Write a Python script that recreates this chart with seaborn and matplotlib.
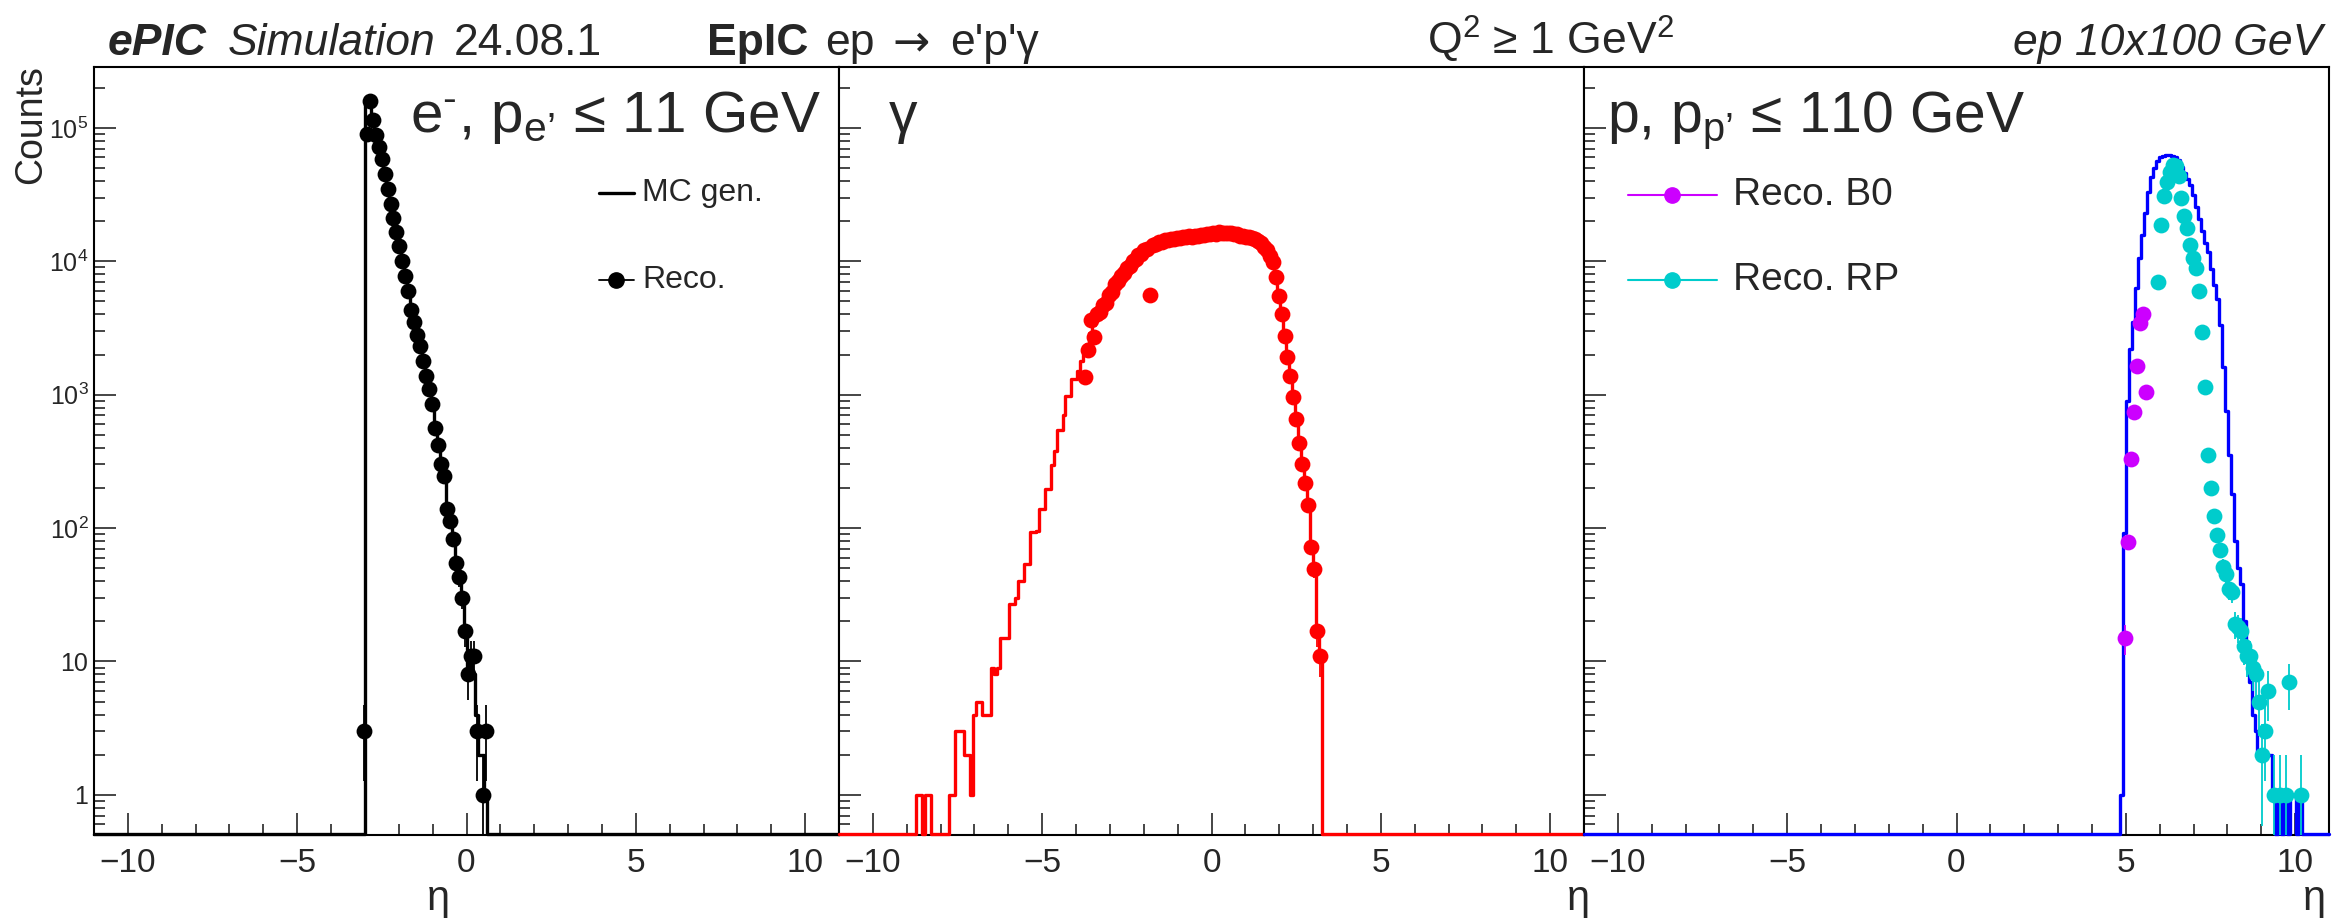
import numpy as np
import matplotlib
matplotlib.use("Agg")
import matplotlib.pyplot as plt
from matplotlib.lines import Line2D
from matplotlib.ticker import MultipleLocator, LogLocator, NullFormatter
import seaborn as sns

# ---- data (counts per eta bin, 250 bins over [-11, 11]) ----
N_BINS = 250
ETA_MIN, ETA_MAX = -11.0, 11.0

# panel 1: scattered electron
el_mc_first = 91
el_mc = [155000, 145000, 115000, 88000, 72000, 58000, 45000, 35000, 27000, 21000,
         16500, 13000, 10000, 7800, 6000, 4300, 3500, 2800, 2300, 1800,
         1380, 1100, 850, 560, 420, 300, 245, 140, 112, 83,
         55, 43, 30, 17, 9, 10, 8, 4, 2, 2, 1]
el_reco_first = 90
el_reco = [3, 90000, 160000, 115000, 88000, 72000, 58000, 45000, 35000, 27000,
           21000, 16500, 13000, 10000, 7800, 6000, 4300, 3500, 2800, 2300,
           1800, 1380, 1100, 850, 560, 420, 300, 245, 140, 112,
           83, 55, 43, 30, 17, 8, 11, 11, 3, 0, 1, 3]

# panel 2: photon
ga_mc_first = 26
ga_mc = [1, 1, 0, 1, 1, 0, 0, 0, 0, 0, 0, 1, 1, 3, 3, 3, 2, 2, 1, 4,          # 26-45
         5, 5, 4, 4, 4, 9, 8, 9, 15, 15, 15, 27, 27, 30, 40, 40, 54, 54, 93, 93,  # 46-65
         95, 140, 140, 195, 195, 295, 380, 540, 540, 710,                   # 66-75
         970, 970, 1300, 1300, 1500, 1800, 2000, 2400, 2900, 3300,          # 76-85
         3800, 4300, 4600, 5000, 5500, 6000, 6700, 7200, 7700, 8200,        # 86-95
         8800, 9300, 10000, 10500, 11000, 11500, 12000, 12500, 12900, 13200,  # 96-105
         13600, 13900, 14100, 14300, 14500, 14600, 14800, 14900, 15000, 15100,  # 106-115
         15200, 15300, 15400, 15500, 15600, 15700, 15800, 16000, 16200, 16300,  # 116-125
         16200, 16400, 16300, 16200, 16300, 16100, 16000, 15800, 15700, 15500,  # 126-135
         15400, 15200, 15000, 14700, 14300, 13700, 13000, 12000, 11000, 9800,   # 136-145
         7600, 5500, 4000, 2750, 1900, 1380, 955, 660, 436, 302,             # 146-155
         219, 148, 72, 49, 17, 11]                                          # 156-161
ga_reco_first = 82
ga_reco = [1350, 2150, 3600, 2700, 4000, 4200, 4700, 4900, 5600, 5900,      # 82-91
           6800, 7100, 7800, 8100, 8900, 9200, 10100, 10400, 11100, 11400,  # 92-101
           12100, 12400, 5600, 13300, 13500, 14000, 14000, 14400, 14400, 14700,  # 102-111
           14700, 15000, 14900, 15200, 15100, 15400, 15300, 15600, 15500, 15800,  # 112-121
           15700, 16100, 16100, 16400, 16100, 16500, 16200, 16300, 16200, 16200,  # 122-131
           15900, 15900, 15600, 15600, 15300, 15300, 14900, 14800, 14200, 13800,  # 132-141
           12900, 12100, 10900, 9900, 7600, 5500, 4000, 2750, 1900, 1380,      # 142-151
           955, 660, 436, 302, 219, 148, 72, 49, 17, 11]                     # 152-161

# panel 3: scattered proton
pr_mc_first = 180
pr_mc = [1, 92, 900, 2200, 3500, 6300, 10500, 15800, 23000, 33000,          # 180-189
         42600, 50000, 56000, 60000, 61500, 63000, 63000, 61500, 60000, 57500,  # 190-199
         51000, 45700, 41700, 37000, 31600, 25700, 20900, 17000, 13800, 11700,  # 200-209
         8700, 6600, 5200, 3300, 1600, 760, 350, 180, 80, 50,               # 210-219
         38, 20, 13, 7, 4, 3, 2, 2, 2, 2,                                   # 220-229
         2, 1, 0, 1, 0, 1, 0, 1, 1, 0, 1]                                   # 230-240
pr_b0_first = 181
pr_b0 = [15, 78, 330, 740, 1650, 3450, 4000, 1050]
pr_rp_first = 192
pr_rp = [7000, 18600, 31000, 39000, 46800, 52500, 52000, 43600, 30000, 22000,  # 192-201
         17800, 13200, 10500, 8900, 6000, 2950, 1150, 350, 200, 123,        # 202-211
         89, 68, 51, 45, 35, 33, 19, 18, 17, 13,                            # 212-221
         11, 11, 9, 8, 5, 2, 3, 6, 0, 1,                                    # 222-231
         0, 1, 0, 1, 7, 0, 0, 0, 1]                                         # 232-240

xtick_vals = [-10, -5, 0, 5, 10]
xtick_labels = ["\u221210", "\u22125", "0", "5", "10"]
ytick_vals = [1, 10, 1e2, 1e3, 1e4, 1e5]
ytick_labels = ["1", "10", r"$\mathregular{10^{2}}$", r"$\mathregular{10^{3}}$",
                r"$\mathregular{10^{4}}$", r"$\mathregular{10^{5}}$"]

# ---- style ----
sns.set_style("ticks")
plt.rcParams["font.family"] = ["Liberation Sans", "DejaVu Sans"]
plt.rcParams["mathtext.fontset"] = "custom"
plt.rcParams["mathtext.rm"] = "Liberation Sans"
plt.rcParams["mathtext.it"] = "Liberation Sans:italic"
plt.rcParams["mathtext.bf"] = "Liberation Sans:bold"

W, H = 2336, 918
Y_MIN, Y_MAX = 0.5, 2.86e5
ZERO_LEVEL = 0.51

edges = np.linspace(ETA_MIN, ETA_MAX, N_BINS + 1)
centers = 0.5 * (edges[:-1] + edges[1:])
half_w = 0.5 * (edges[1] - edges[0])


def fx(px):
    return px / W


def fy(py):
    return 1 - py / H


def fill(first, counts):
    h = np.zeros(N_BINS)
    h[first:first + len(counts)] = counts
    return h


def draw_mc(ax, counts, color):
    y = np.where(counts > 0, counts, ZERO_LEVEL)
    y = np.append(y, y[-1])
    sns.lineplot(x=edges, y=y, drawstyle="steps-post", estimator=None, sort=False,
                 color=color, lw=2.4, ax=ax, clip_on=False, zorder=3)


def draw_reco(ax, counts, color):
    m = counts > 0
    x, y = centers[m], counts[m]
    err = np.sqrt(y)
    lo = y - np.maximum(y - err, 1e-2)
    ax.errorbar(x, y, yerr=[lo, err], xerr=half_w, fmt="none", ecolor=color,
                elinewidth=1.3, zorder=4)
    sns.scatterplot(x=x, y=y, color=color, s=130, linewidth=0, ax=ax,
                    zorder=5, legend=False)


def style_axis(ax, show_ylabels):
    ax.set_yscale("log")
    ax.set_xlim(ETA_MIN, ETA_MAX)
    ax.set_ylim(Y_MIN, Y_MAX)
    ax.set_xticks(xtick_vals, xtick_labels)
    ax.xaxis.set_minor_locator(MultipleLocator(1))
    if show_ylabels:
        ax.set_yticks(ytick_vals, ytick_labels)
    else:
        ax.set_yticks(ytick_vals, [""] * len(ytick_vals))
    ax.yaxis.set_minor_locator(LogLocator(base=10, subs=np.arange(2, 10)))
    ax.yaxis.set_minor_formatter(NullFormatter())
    ax.tick_params(which="major", direction="in", length=16, width=1.2,
                   top=False, right=False)
    ax.tick_params(which="minor", direction="in", length=8, width=1.2,
                   top=False, right=False)
    ax.tick_params(axis="x", pad=9, labelsize=24)
    ax.tick_params(axis="y", pad=4, labelsize=18)
    ax.set_xlabel("")
    ax.set_ylabel("")
    for s in ax.spines.values():
        s.set_linewidth(1.5)
        s.set_color("black")


fig = plt.figure(figsize=(W / 100, H / 100), dpi=100)
ax_w = 745 / W
ax_h = 768 / H
ax_b = fy(835)
ax1 = fig.add_axes([fx(94), ax_b, ax_w, ax_h])
ax2 = fig.add_axes([fx(839), ax_b, ax_w, ax_h])
ax3 = fig.add_axes([fx(1584), ax_b, ax_w, ax_h])
for ax in (ax1, ax2, ax3):
    ax.set_yscale("log")

# electron
draw_mc(ax1, fill(el_mc_first, el_mc), "black")
draw_reco(ax1, fill(el_reco_first, el_reco), "black")
# photon
draw_mc(ax2, fill(ga_mc_first, ga_mc), "#ff0000")
draw_reco(ax2, fill(ga_reco_first, ga_reco), "#ff0000")
# proton
draw_mc(ax3, fill(pr_mc_first, pr_mc), "#0000ff")
draw_reco(ax3, fill(pr_b0_first, pr_b0), "#cc00ff")
draw_reco(ax3, fill(pr_rp_first, pr_rp), "#00cccc")

style_axis(ax1, True)
style_axis(ax2, False)
style_axis(ax3, False)

# header
fs_head = 32
fig.text(fx(108), fy(55), "ePIC", fontsize=fs_head, fontweight="bold", fontstyle="italic", va="baseline")
fig.text(fx(228), fy(55), "Simulation", fontsize=fs_head, fontstyle="italic", va="baseline")
fig.text(fx(454), fy(55), "24.08.1", fontsize=fs_head, va="baseline")
fig.text(fx(707), fy(55), "EpIC", fontsize=fs_head, fontweight="bold", va="baseline")
fig.text(fx(825), fy(55), "ep", fontsize=fs_head, va="baseline")
fig.text(fx(892), fy(55), "\u2192", fontsize=fs_head, va="baseline", family="DejaVu Sans")
fig.text(fx(950), fy(55), "e'p'\u03b3", fontsize=fs_head, va="baseline")
fig.text(fx(1427), fy(55), "Q$^{2}$ \u2265 1 GeV$^{2}$", fontsize=fs_head, va="baseline")
fig.text(fx(2322), fy(55), "ep 10x100 GeV", fontsize=fs_head, fontstyle="italic", ha="right", va="baseline")

# panel labels
fig.text(fx(410), fy(132), "e$^{\\text{-}}$, p$_{\\mathrm{e\u2019}}$ \u2264 11 GeV", fontsize=42, va="baseline")
fig.text(fx(889), fy(132), "\u03b3", fontsize=41, va="baseline")
fig.text(fx(1607), fy(132), "p, p$_{\\mathrm{p\u2019}}$ \u2264 110 GeV", fontsize=41, va="baseline")

# axis titles
fig.text(fx(31), fy(65), "Counts", fontsize=27, rotation=90, ha="center", va="top")
fig.text(fx(438), fy(910), "\u03b7", fontsize=30, ha="center", va="baseline")
fig.text(fx(1578), fy(910), "\u03b7", fontsize=30, ha="center", va="baseline")
fig.text(fx(2314), fy(910), "\u03b7", fontsize=30, ha="center", va="baseline")

# legend, panel 1
fig.add_artist(Line2D([fx(599), fx(634)], [fy(193), fy(193)], color="black", lw=2.4))
fig.text(fx(642), fy(193), "MC gen.", fontsize=23, va="center")
fig.add_artist(Line2D([fx(599), fx(634)], [fy(280), fy(280)], color="black", lw=1.3))
fig.add_artist(Line2D([fx(616)], [fy(280)], color="black", marker="o", ms=11, lw=0))
fig.text(fx(642), fy(280), "Reco.", fontsize=23, va="center")

# legend, panel 3
for y, c, lab in [(195, "#cc00ff", "Reco. B0"), (280, "#00cccc", "Reco. RP")]:
    fig.add_artist(Line2D([fx(1628), fx(1717)], [fy(y), fy(y)], color=c, lw=1.5))
    fig.add_artist(Line2D([fx(1672)], [fy(y)], color=c, marker="o", ms=11, lw=0))
    fig.text(fx(1733), fy(y), lab, fontsize=28, va="center")

fig.savefig("out.png", dpi=100)
